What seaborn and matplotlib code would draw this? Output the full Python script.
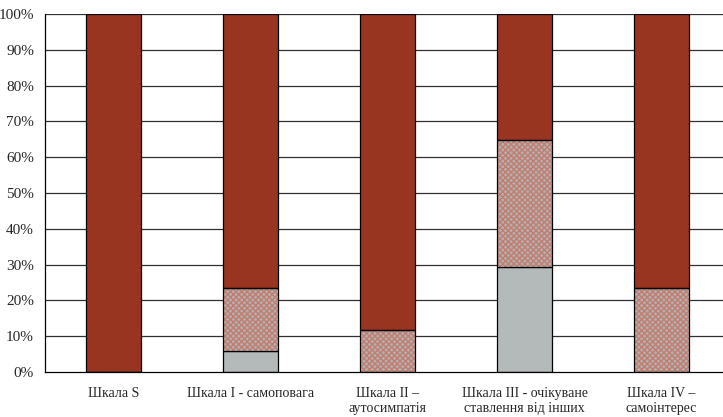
import matplotlib
matplotlib.use('Agg')
import matplotlib.pyplot as plt
import seaborn as sns
import pandas as pd

# Scale names and level shares (%)
scales = ['Шкала S', 'Шкала I - самоповага', 'Шкала II –\nаутосимпатія',
          'Шкала III - очікуване\nставлення від інших', 'Шкала IV –\nсамоінтерес']
low = [0, 5.9, 0, 29.4, 0]
medium = [0, 17.6, 11.8, 35.3, 23.5]
high = [100, 76.5, 88.2, 35.3, 76.5]

df = pd.DataFrame({'scale': scales, 'low': low, 'medium': medium, 'high': high})
df['mid_bottom'] = df['low']
df['high_bottom'] = df['low'] + df['medium']

sns.set_style('white')
plt.rcParams['font.family'] = ['Liberation Serif', 'DejaVu Serif']
plt.rcParams['hatch.linewidth'] = 0.9

fig = plt.figure(figsize=(7.23, 4.17), dpi=100)
ax = fig.add_axes([45 / 723, 45 / 417, 685 / 723, 358 / 417])

# gridlines under bars
for v in range(10, 101, 10):
    ax.axhline(v, color='#303030', lw=0.9, zorder=0)

# bottom: gray
sns.barplot(data=df, x='scale', y='low', color='#b4b9b9', width=0.4,
            saturation=1, edgecolor='black', linewidth=0.9, ax=ax, zorder=2)
# middle: hatched
sns.barplot(data=df, x='scale', y='medium', bottom=df['mid_bottom'], color='#b2b0ae',
            width=0.4, saturation=1, edgecolor='#c47a6c', linewidth=0, hatch='xxxxxx',
            ax=ax, zorder=2)
sns.barplot(data=df, x='scale', y='medium', bottom=df['mid_bottom'], color='black',
            fill=False, width=0.4, linewidth=0.9, ax=ax, zorder=3)
# top: dark red
sns.barplot(data=df, x='scale', y='high', bottom=df['high_bottom'], color='#983520',
            width=0.4, saturation=1, edgecolor='black', linewidth=0.9, ax=ax, zorder=2)

ax.set_xlim(-0.5, 4.5)
ax.set_ylim(0, 100)
ax.set_yticks(range(0, 101, 10))
ax.set_yticklabels([f'{v}%' for v in range(0, 101, 10)], fontsize=11)
ax.set_xticks(range(len(scales)))
ax.set_xticklabels(scales, fontsize=10, linespacing=1.15)
ax.set_xticks([i + 0.5 for i in range(len(scales))], minor=True)
ax.tick_params(axis='x', which='major', length=0, pad=11)
ax.tick_params(axis='x', which='minor', length=5, width=0.9, color='black', direction='out')
ax.tick_params(axis='y', length=5, width=0.9, color='black', direction='out', pad=3)
ax.set_xlabel('')
ax.set_ylabel('')

for s in ['top', 'right']:
    ax.spines[s].set_visible(False)
for s in ['left', 'bottom']:
    ax.spines[s].set_color('black')
    ax.spines[s].set_linewidth(0.9)

fig.savefig('out.png', dpi=100)
